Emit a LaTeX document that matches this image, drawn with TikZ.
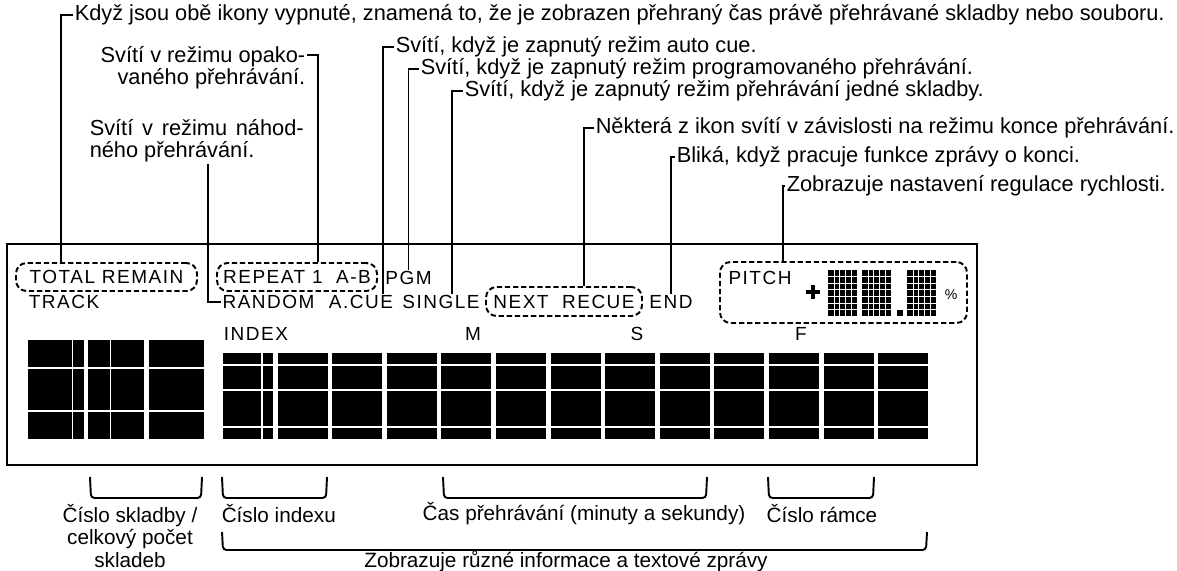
\documentclass[tikz,border=0pt]{standalone}
\usepackage{fontspec}
\setmainfont{Liberation Sans}
\newfontfamily\lcdfam[LetterSpace=8]{Liberation Sans}
\usepackage{tikz}
\usetikzlibrary{positioning,calc}
\newcommand{\notefont}{\fontsize{12.4pt}{12.6pt}\selectfont}
\newcommand{\partfont}{\fontsize{11.8pt}{12.6pt}\selectfont}
\newcommand{\lcdfont}{\lcdfam\fontsize{10.8pt}{12pt}\selectfont}

\begin{document}
\begin{tikzpicture}[
    x=0.02cm, y=-0.02cm,
    note/.style={inner sep=0.8pt, font=\notefont},
    part/.style={inner sep=0.8pt, font=\partfont},
    lcd/.style={inner sep=0.5pt, font=\lcdfont},
    lcdgroup/.style={draw, line width=1.1pt, dash pattern=on 3pt off 1.6pt, rounded corners=6pt},
    leader/.style={line width=1.1pt},
    brace/.style={line width=1.1pt, rounded corners=2pt},
    grid/.style={white, line width=0.6pt}
]
\path[use as bounding box, fill=white] (0,0) rectangle (1177,571);

% display frame
\draw[line width=1.3pt] (7,244) rectangle (977,465);

% icons of the display
\node[lcd, lcdgroup, minimum width=3.62cm, minimum height=0.56cm] (total) at (106.5,277) {TOTAL REMAIN};
\node[lcd] (track) at (64,302) {TRACK};
\node[lcd, lcdgroup, minimum width=3.2cm, minimum height=0.56cm] (rep) at (297,277) {REPEAT 1\ \ A-B};
\node[lcd] (pgm) at (408.5,278) {PGM};
\node[lcd] (random) at (268.5,302) {RANDOM};
\node[lcd] (acue) at (361,302) {A.CUE};
\node[lcd] (single) at (441,302) {SINGLE};
\node[lcd, lcdgroup, minimum width=3.12cm, minimum height=0.58cm] (next) at (564,301.5) {NEXT\ \ RECUE};
\node[lcd] (lblend) at (671,302) {END};
\node[lcdgroup, minimum width=4.94cm, minimum height=1.22cm] (pitchbox) at (843.5,292.5) {};
\node[lcd] (pitch) at (760,278) {PITCH};
\node[font=\fontsize{8pt}{9pt}\selectfont, inner sep=0pt] (pct) at (951,295) {\%};
\node[lcd] (index) at (256,334) {INDEX};
\node[lcd] (mins) at (473,334) {M};
\node[lcd] (secs) at (637,334) {S};
\node[lcd] (frames) at (801,334) {F};

% pitch value
\draw[line width=2.4pt] (806,292) -- (820,292) (813,285) -- (813,299);
\foreach \x in {828,862,907} {
    \fill (\x,270) rectangle ++(29,46);
    \foreach \k in {1,...,4} \draw[white, line width=0.3pt] ({\x+\k*5.8},270) -- ++(0,46);
    \foreach \k in {1,...,6} \draw[white, line width=0.3pt] (\x,{270+\k*6.57}) -- ++(29,0);
}
\fill (897,310) rectangle (903,316);

% track digits
\fill (27.6,340) rectangle (84.3,439);
\fill (88,340) rectangle (144,439);
\fill (148.7,340) rectangle (204,439);
\draw[grid] (72.8,340) -- (72.8,439);
\draw[grid] (110.5,340) -- (110.5,439);
\foreach \y in {368,411} \draw[grid] (26,\y) -- (206,\y);

% character digits
\foreach \i in {0,...,12} \fill ({223+54.6*\i},353) rectangle ++(50,86);
\foreach \y in {365,390,427} \draw[grid] (221,\y) -- (931,\y);
\draw[grid] (262,353) -- (262,439);

% notes above
\node[note, anchor=west] (tkdyz) at (73,15) {Když jsou obě ikony vypnuté, znamená to, že je zobrazen přehraný čas právě přehrávané skladby nebo souboru.};
\node[note, anchor=north east, align=right] (topako) at (307,45) {Svítí v režimu opako-\\vaného přehrávání.};
\node[note, anchor=west] (tauto) at (394,47) {Svítí, když je zapnutý režim auto cue.};
\node[note, anchor=west] (tprog) at (419,69) {Svítí, když je zapnutý režim programovaného přehrávání.};
\node[note, anchor=west] (tsingle) at (463,91) {Svítí, když je zapnutý režim přehrávání jedné skladby.};
\node[note, anchor=north west, text width=4.28cm, align=justify] (tnahod) at (88,118) {Svítí v režimu náhod-\linebreak ného přehrávání.};
\node[note, anchor=west] (tnext) at (594,128) {Některá z ikon svítí v závislosti na režimu konce přehrávání.};
\node[note, anchor=west] (tend) at (675,157) {Bliká, když pracuje funkce zprávy o konci.};
\node[note, anchor=west] (tpitch) at (785,186) {Zobrazuje nastavení regulace rychlosti.};

\draw[leader] (tkdyz.west) -| ([xshift=-0.91cm]total.north);
\draw[leader] ([yshift=-0.2cm]topako.north east) -| ([xshift=0.42cm]rep.north);
\draw[leader] (tauto.west) -| ([xshift=0.44cm]acue.north);
\draw[leader] (tprog.west) -| (pgm.north);
\draw[leader] (tsingle.west) -| ([xshift=0.22cm]single.north);
\draw[leader] ([xshift=2.4cm]tnahod.south west) |- (random.west);
\draw[leader] (tnext.west) -| ([xshift=0.4cm]next.north);
\draw[leader] (tend.west) -| (lblend.north);
\draw[leader] (tpitch.west) -| ([xshift=-1.21cm]pitchbox.north);

% notes below
\draw[brace] (90,477) -- (91,498) -- (201,498) -- (202,477);
\draw[brace] (222,477) -- (223,498) -- (326,498) -- (327,477);
\draw[brace] (443,477) -- (444,498) -- (706,498) -- (707,477);
\draw[brace] (768,477) -- (769,498) -- (873,498) -- (874,477);
\draw[brace] (222,532) -- (223,550) -- (926,550) -- (927,532);

\node[part, align=center] (btrack) at (130,536) {Číslo skladby /\\celkový počet\\skladeb};
\node[part, anchor=west] (bindex) at (220,514) {Číslo indexu};
\node[part] (btime) at (584,514) {Čas přehrávání (minuty a sekundy)};
\node[part] (bframe) at (822,514) {Číslo rámce};
\node[part] (bmsg) at (566,561) {Zobrazuje různé informace a textové zprávy};

\end{tikzpicture}
\end{document}
